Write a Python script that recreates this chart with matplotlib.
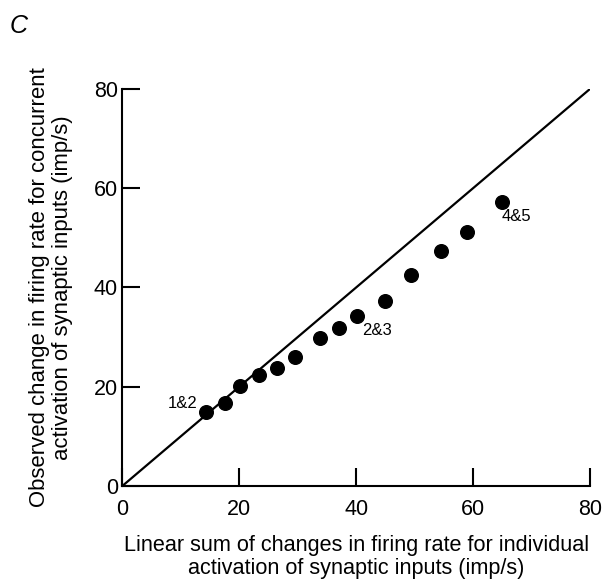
import matplotlib
matplotlib.use('Agg')
import matplotlib.pyplot as plt

plt.rcParams['font.family'] = ['Liberation Sans', 'DejaVu Sans']

# observed vs linear sum (imp/s)
linear_sum = [14.3, 17.6, 20.2, 23.4, 26.4, 29.6, 33.8, 37.1, 40.2, 45.0, 49.4, 54.5, 58.9, 64.9]
observed = [14.9, 16.8, 20.2, 22.3, 23.8, 25.9, 29.8, 31.8, 34.3, 37.2, 42.4, 47.3, 51.1, 57.2]

pair_labels = ['1&2', '2&3', '4&5']
pair_index = [0, 8, 13]

ticks = [0, 20, 40, 60, 80]

fig = plt.figure(figsize=(6.06, 5.79), dpi=100)
ax = fig.add_axes([0.2018, 0.1606, 0.772, 0.686])

# unity line
ax.plot([0, 80], [0, 80], color='black', linewidth=1.6, zorder=1)
ax.plot(linear_sum, observed, 'o', color='black', markersize=9.8, zorder=2)

offsets = [(-8, 9, 'right'), (5, -15, 'left'), (0, -14, 'left')]
for lab, i, (dx, dy, ha) in zip(pair_labels, pair_index, offsets):
    ax.annotate(lab, (linear_sum[i], observed[i]), xytext=(dx, dy),
                textcoords='offset pixels', fontsize=12, ha=ha, va='center')

ax.set_xlim(0, 80)
ax.set_ylim(0, 80)
ax.set_xticks(ticks)
ax.set_yticks(ticks)
ax.tick_params(direction='in', length=13, width=1.5, labelsize=15.5)
ax.tick_params(axis='x', pad=9)
ax.tick_params(axis='y', pad=3)
for s in ['top', 'right']:
    ax.spines[s].set_visible(False)
for s in ['left', 'bottom']:
    ax.spines[s].set_linewidth(1.5)

ax.set_xlabel('Linear sum of changes in firing rate for individual\nactivation of synaptic inputs (imp/s)',
              fontsize=15.6, labelpad=11, linespacing=1.15)
ax.set_ylabel('Observed change in firing rate for concurrent\nactivation of synaptic inputs (imp/s)',
              fontsize=15.9, labelpad=15, linespacing=1.13)

fig.text(0.016, 0.975, 'C', fontsize=18, style='italic', va='top', ha='left')

plt.savefig('out.png', dpi=100)
